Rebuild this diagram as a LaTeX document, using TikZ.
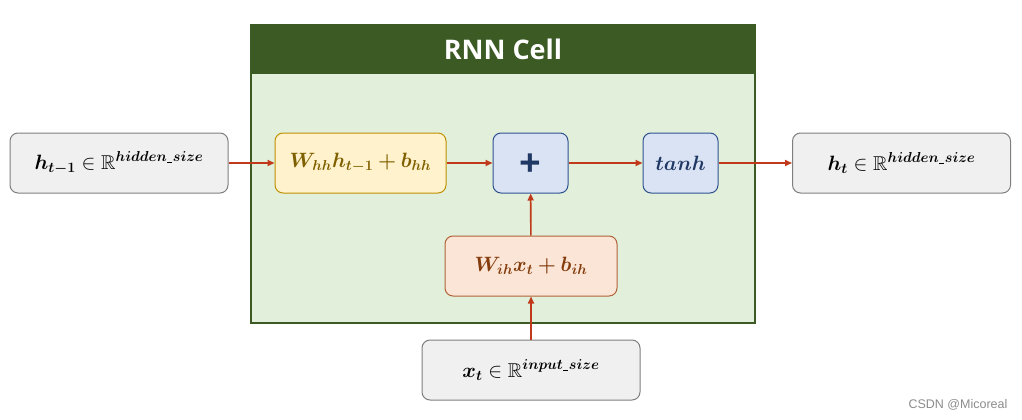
\documentclass[tikz,border=0pt]{standalone}
\usepackage{amsmath,amssymb,bm}
\usepackage{fontspec}
\newfontfamily\titlefont{Open Sans}
\newfontfamily\wmfont{Liberation Sans}
\usetikzlibrary{arrows.meta}
\definecolor{hdrgreen}{HTML}{3B5A24}
\definecolor{bodygreen}{HTML}{E2EFDA}
\definecolor{greyfill}{HTML}{F0F0F0}
\definecolor{greyline}{HTML}{7F7F7F}
\definecolor{yelfill}{HTML}{FFF2CC}
\definecolor{yelline}{HTML}{BF9000}
\definecolor{yeltext}{HTML}{7F6000}
\definecolor{bluefill}{HTML}{DAE3F3}
\definecolor{blueline}{HTML}{2F528F}
\definecolor{bluetext}{HTML}{1F3864}
\definecolor{orgfill}{HTML}{FBE5D6}
\definecolor{orgline}{HTML}{B0643A}
\definecolor{orgtext}{HTML}{843C0C}
\definecolor{arrred}{HTML}{C0391B}
\newcommand{\usc}{\kern0.5pt\rule[-1.2pt]{5pt}{0.8pt}\kern0.5pt}
\tikzset{
  box/.style={draw, line width=1pt, rounded corners=8pt, inner sep=0pt, font=\fontsize{20}{24}\selectfont},
  iobox/.style={box, fill=greyfill, draw=greyline, minimum width=218pt, minimum height=60pt},
  yelbox/.style={box, fill=yelfill, draw=yelline, text=yeltext, minimum width=171pt, minimum height=60pt},
  bluebox/.style={box, fill=bluefill, draw=blueline, text=bluetext, minimum width=75pt, minimum height=60pt},
  orgbox/.style={box, fill=orgfill, draw=orgline, text=orgtext, minimum width=172pt, minimum height=60pt},
  flow/.style={draw=arrred, line width=1.6pt, -{Triangle[length=7pt,width=6pt]}}
}
\begin{document}
\begin{tikzpicture}[x=1pt,y=-1pt]
\useasboundingbox (0,0) rectangle (1022,420);
% cell
\fill[bodygreen] (251,25) rectangle (755,323);
\fill[hdrgreen] (251,25) rectangle (755,74);
\draw[hdrgreen, line width=1.5pt] (251,25) rectangle (755,323);
\node[text=white, font=\titlefont\bfseries\fontsize{27}{30}\selectfont] (title) at (503,49) {RNN Cell};
% nodes
\node[iobox] (hprev) at (119,163) {$\bm{h_{t-1}} \in \mathbb{R}^{\bm{hidden}\usc\bm{size}}$};
\node[yelbox] (whh) at (360.5,163) {$\bm{W_{hh}h_{t-1} + b_{hh}}$};
\node[bluebox, text height=26pt, text depth=0pt] (plus) at (530.5,163) {\titlefont\bfseries\fontsize{38}{38}\selectfont +};
\node[bluebox] (tanh) at (680.5,163) {$\bm{tanh}$};
\node[iobox] (hnext) at (901.5,163) {$\bm{h_{t}} \in \mathbb{R}^{\bm{hidden}\usc\bm{size}}$};
\node[orgbox] (wih) at (531,266) {$\bm{W_{ih}x_{t} + b_{ih}}$};
\node[iobox] (xt) at (531,370) {$\bm{x_{t}} \in \mathbb{R}^{\bm{input}\usc\bm{size}}$};
% connectors
\draw[flow] (hprev) -- (whh);
\draw[flow] (whh) -- (plus);
\draw[flow] (plus) -- (tanh);
\draw[flow] (tanh) -- (hnext);
\draw[flow] (xt) -- (wih);
\draw[flow] (wih) -- (plus);
% watermark
\node[text=black!45, font=\wmfont\fontsize{12.5}{14}\selectfont] (wm) at (958,405) {CSDN @Micoreal};
\end{tikzpicture}
\end{document}
